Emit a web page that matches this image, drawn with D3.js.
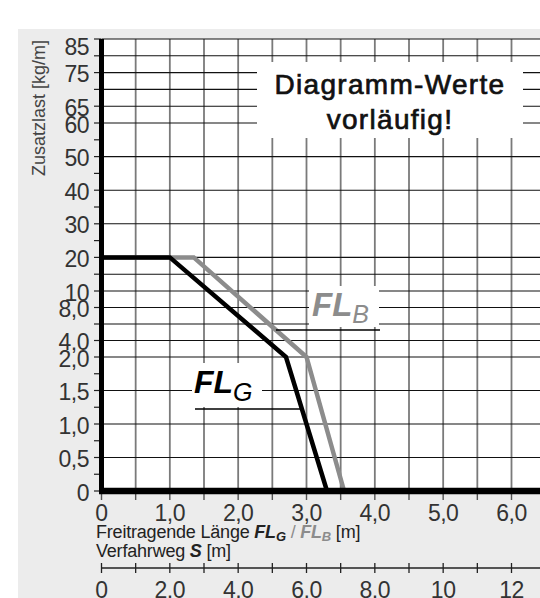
<!DOCTYPE html>
<html>
<head>
<meta charset="utf-8">
<script src="https://cdn.jsdelivr.net/npm/d3@7"></script>
<style>
  html, body { margin: 0; padding: 0; background: #fff; }
  svg { display: block; }
  text { font-family: "Liberation Sans", Arial, Helvetica, sans-serif; }
</style>
</head>
<body>
<svg id="chart" width="540" height="598"></svg>
<script>
// ---------- data ----------
const flTickValues = [0, 1, 2, 3, 4, 5, 6];
const flTickLabels = ["0", "1,0", "2,0", "3,0", "4,0", "5,0", "6,0"];
const sTickValues = [0, 2, 4, 6, 8, 10, 12];
const sTickLabels = ["0", "2,0", "4,0", "6,0", "8,0", "10", "12"];
const yTickValues = [0, 0.5, 1, 1.5, 2, 4, 8, 10, 20, 30, 40, 50, 60, 65, 75, 85];
const yTickLabels = ["0", "0,5", "1,0", "1,5", "2,0", "4,0", "8,0", "10", "20", "30", "40", "50", "60", "65", "75", "85"];
const yGridValues = [0.5, 1, 1.5, 2, 4, 6, 8, 10, 15, 20, 30, 40, 50, 60, 65, 70, 75, 80, 85];
const yMinorValues = [0.25, 0.75, 1.25, 1.75, 6, 15, 25, 35, 45, 55, 70, 80];
const flGridValues = [0.5, 1, 1.5, 2, 2.5, 3, 3.5, 4, 4.5, 5, 5.5, 6, 6.5];
const sMinorValues = [1, 3, 5, 7, 9, 11, 13];
const seriesFLG = [{l: 0, z: 20}, {l: 1.0, z: 20}, {l: 2.7, z: 2.0}, {l: 3.3, z: 0}];
const seriesFLB = [{l: 0, z: 20}, {l: 1.35, z: 20}, {l: 3.0, z: 2.0}, {l: 3.55, z: 0}];
const noteLines = ["Diagramm-Werte", "vorläufig!"];

// ---------- scales ----------
const W = 540, H = 598;
const x = d3.scaleLinear().domain([0, 6]).range([101.5, 511.5]);
const xs = d3.scaleLinear().domain([0, 12]).range([101.5, 511.5]);
const y = d3.scaleLinear().domain([0, 2, 10, 85]).range([491, 357, 291, 39]);
const plotL = x(0), plotR = W, plotT = y(85), plotB = y(0);

const svg = d3.select("#chart");

// backgrounds
svg.append("rect").attr("x", 0).attr("y", 0).attr("width", W).attr("height", H).attr("fill", "#fff");
svg.append("rect").attr("x", 18).attr("y", 29).attr("width", W - 18).attr("height", H - 29).attr("fill", "#ececec");
svg.append("rect").attr("x", plotL).attr("y", plotT).attr("width", plotR - plotL).attr("height", plotB - plotT).attr("fill", "#fff");

// vertical grid
svg.append("g").selectAll("line").data(flGridValues).join("line")
  .attr("x1", d => x(d)).attr("x2", d => x(d))
  .attr("y1", plotT).attr("y2", plotB)
  .attr("stroke", "#7a7a7a").attr("stroke-width", 1.8);

// horizontal grid
svg.append("g").selectAll("line").data(yGridValues).join("line")
  .attr("x1", plotL).attr("x2", plotR)
  .attr("y1", d => y(d)).attr("y2", d => y(d))
  .attr("stroke", "#111").attr("stroke-width", 1.1);

// white label boxes
svg.append("rect").attr("x", 257).attr("y", 62).attr("width", 266).attr("height", 76).attr("fill", "#fff");
svg.append("rect").attr("x", 192).attr("y", 363).attr("width", 70).attr("height", 44).attr("fill", "#fff");
svg.append("rect").attr("x", 309).attr("y", 286).attr("width", 70).attr("height", 41).attr("fill", "#fff");

// note text
svg.append("g").selectAll("text").data(noteLines).join("text")
  .attr("x", 390).attr("y", (d, i) => 94 + i * 35)
  .attr("text-anchor", "middle")
  .attr("font-size", 28).attr("letter-spacing", 1.3)
  .attr("fill", "#111").attr("stroke", "#111").attr("stroke-width", 0.7)
  .text(d => d);

// curves
const line = d3.line().x(d => x(d.l)).y(d => y(d.z));
svg.append("path").datum(seriesFLB).attr("d", line)
  .attr("fill", "none").attr("stroke", "#8c8c8c").attr("stroke-width", 4.5);
svg.append("path").datum(seriesFLG).attr("d", line)
  .attr("fill", "none").attr("stroke", "#000").attr("stroke-width", 4.5);

// helper: pixel x where series crosses pixel y
function crossX(series, py) {
  for (let i = 0; i < series.length - 1; i++) {
    const y0 = y(series[i].z), y1 = y(series[i + 1].z);
    if ((py - y0) * (py - y1) <= 0 && y0 !== y1) {
      const t = (py - y0) / (y1 - y0);
      return x(series[i].l) + t * (x(series[i + 1].l) - x(series[i].l));
    }
  }
  return null;
}

// FL_G label + leader
svg.append("line").attr("x1", 195).attr("x2", crossX(seriesFLG, 409))
  .attr("y1", 409).attr("y2", 409).attr("stroke", "#000").attr("stroke-width", 1.3);
const tG = svg.append("text").attr("x", 194).attr("y", 393).attr("fill", "#000");
tG.append("tspan").attr("font-size", 32).attr("font-weight", "bold").attr("font-style", "italic").text("FL");
tG.append("tspan").attr("font-size", 25).attr("font-style", "italic").attr("dy", 8).text("G");

// FL_B label + leader
svg.append("line").attr("x1", crossX(seriesFLB, 330)).attr("x2", 380)
  .attr("y1", 330).attr("y2", 330).attr("stroke", "#000").attr("stroke-width", 1.3);
const tB = svg.append("text").attr("x", 312).attr("y", 316).attr("fill", "#8c8c8c");
tB.append("tspan").attr("font-size", 33).attr("font-weight", "bold").attr("font-style", "italic").text("FL");
tB.append("tspan").attr("font-size", 25).attr("font-style", "italic").attr("dy", 7).text("B");

// y ticks
svg.append("g").selectAll("line").data(yTickValues.concat(yMinorValues)).join("line")
  .attr("x1", 94).attr("x2", 101).attr("y1", d => y(d)).attr("y2", d => y(d))
  .attr("stroke", "#222").attr("stroke-width", 1.2);
svg.append("g").selectAll("text").data(yTickValues).join("text")
  .attr("x", 89)
  .attr("y", d => Math.max(y(d) + 9.5, 55))
  .attr("text-anchor", "end").attr("font-size", 23).attr("letter-spacing", -0.5)
  .attr("fill", "#333")
  .text((d, i) => yTickLabels[i]);

// y title
svg.append("text")
  .attr("transform", "translate(45,108) rotate(-90)")
  .attr("text-anchor", "middle").attr("font-size", 18).attr("fill", "#444")
  .text("Zusatzlast [kg/m]");

// x ticks (main)
svg.append("g").selectAll("line").data([0].concat(flGridValues)).join("line")
  .attr("x1", d => x(d)).attr("x2", d => x(d)).attr("y1", 492).attr("y2", 500)
  .attr("stroke", "#555").attr("stroke-width", 1.4);
svg.append("g").selectAll("text").data(flTickValues).join("text")
  .attr("x", d => x(d)).attr("y", 521)
  .attr("text-anchor", "middle").attr("font-size", 23).attr("letter-spacing", -0.5)
  .attr("fill", "#333")
  .text((d, i) => flTickLabels[i]);

// x title lines
const t1 = svg.append("text").attr("x", 96).attr("y", 538).attr("font-size", 18).attr("letter-spacing", -0.2).attr("fill", "#222");
t1.append("tspan").text("Freitragende Länge ");
t1.append("tspan").attr("font-weight", "bold").attr("font-style", "italic").text("FL");
t1.append("tspan").attr("font-weight", "bold").attr("font-style", "italic").attr("font-size", 13).attr("dy", 3).text("G");
t1.append("tspan").attr("fill", "#8c8c8c").attr("dy", -3).text(" / ");
t1.append("tspan").attr("fill", "#8c8c8c").attr("font-weight", "bold").attr("font-style", "italic").text("FL");
t1.append("tspan").attr("fill", "#8c8c8c").attr("font-weight", "bold").attr("font-style", "italic").attr("font-size", 13).attr("dy", 3).text("B");
t1.append("tspan").attr("dy", -3).text(" [m]");
const t2 = svg.append("text").attr("x", 96).attr("y", 557).attr("font-size", 18).attr("letter-spacing", -0.2).attr("fill", "#222");
t2.append("tspan").text("Verfahrweg ");
t2.append("tspan").attr("font-weight", "bold").attr("font-style", "italic").text("S");
t2.append("tspan").text(" [m]");

// secondary S axis
svg.append("line").attr("x1", xs(0)).attr("x2", W).attr("y1", 568).attr("y2", 568)
  .attr("stroke", "#222").attr("stroke-width", 1.4);
svg.append("g").selectAll("line").data(sTickValues.concat(sMinorValues)).join("line")
  .attr("x1", d => xs(d)).attr("x2", d => xs(d)).attr("y1", 563).attr("y2", 573)
  .attr("stroke", "#222").attr("stroke-width", 1.3);
svg.append("g").selectAll("text").data(sTickValues).join("text")
  .attr("x", d => xs(d)).attr("y", 598)
  .attr("text-anchor", "middle").attr("font-size", 23).attr("letter-spacing", -0.5)
  .attr("fill", "#333")
  .text((d, i) => sTickLabels[i]);

// thick axes
svg.append("line").attr("x1", x(0)).attr("x2", x(0)).attr("y1", plotT).attr("y2", plotB + 3)
  .attr("stroke", "#000").attr("stroke-width", 5);
svg.append("line").attr("x1", x(0) - 2.5).attr("x2", W).attr("y1", plotB).attr("y2", plotB)
  .attr("stroke", "#000").attr("stroke-width", 6.5);
</script>
</body>
</html>
